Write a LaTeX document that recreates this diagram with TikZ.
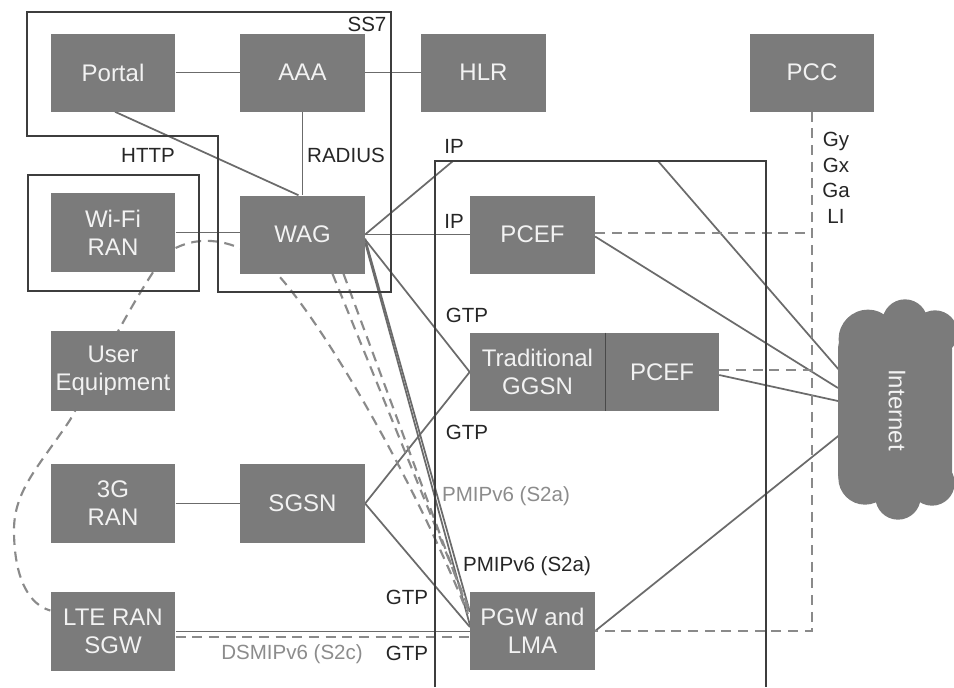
\documentclass[tikz,border=0pt]{standalone}
\usepackage{fontspec}
\setmainfont{Liberation Sans}
\usetikzlibrary{calc,backgrounds}
\pgfdeclarelayer{bottom}
\pgfsetlayers{bottom,background,main}
\definecolor{boxgray}{HTML}{7B7B7B}
\definecolor{boxtext}{HTML}{F2F2F2}
\definecolor{conncol}{HTML}{6B6B6B}
\definecolor{dashcol}{HTML}{8A8A8A}
\definecolor{outcol}{HTML}{3D3D3D}
\definecolor{lblcol}{HTML}{262626}
\definecolor{greylbl}{HTML}{8C8C8C}
\newcommand\boxfnt{\fontsize{18}{21}\selectfont}
\newcommand\lblfnt{\fontsize{15.4}{19}\selectfont}
\tikzset{
  box/.style={fill=boxgray, text=boxtext, font=\boxfnt, align=center, inner sep=0pt,
              minimum width=93.5pt, minimum height=58.5pt},
  lbl/.style={font=\lblfnt, text=lblcol, inner sep=0pt},
  glbl/.style={font=\lblfnt, text=greylbl, inner sep=0pt},
  conn/.style={draw=conncol, line width=1.3pt},
  dashline/.style={draw=dashcol, line width=1.6pt, dash pattern=on 7.5pt off 5pt},
  outline/.style={draw=outcol, line width=2pt},
}
\begin{document}
\begin{tikzpicture}[x=0.75pt,y=-0.75pt]
\begin{pgfonlayer}{bottom}
\fill[white] (0,0) rectangle (954,687);
\end{pgfonlayer}
\useasboundingbox (0,0) rectangle (954,687);

% ---- nodes ----
\node[box] (portal) at (113,72.5) {Portal};
\node[box] (aaa) at (302.5,72.5) {AAA};
\node[box] (hlr) at (483.5,72.5) {HLR};
\node[box] (pcc) at (812,72.5) {PCC};
\node[box, minimum height=59.25pt] (wifi) at (113,232.5) {Wi-Fi\\RAN};
\node[box] (wag) at (302.5,234.5) {WAG};
\node[box] (pcef1) at (532.5,234.5) {PCEF};
\node[box, minimum height=60pt] (ue) at (113,371) {User\\Equipment};
\node[box, minimum width=101.25pt] (ggsn) at (537.5,372) {Traditional\\GGSN};
\node[box, minimum width=85.5pt] (pcef2) at (662,372) {PCEF};
\draw[draw=outcol!80!boxgray, line width=0.8pt] (ggsn.north east) -- (ggsn.south east);
\node[box, minimum height=59.25pt] (ran3g) at (113,503.5) {3G\\RAN};
\node[box, minimum height=59.25pt] (sgsn) at (302.5,503.5) {SGSN};
\node[box, minimum height=59.25pt] (lte) at (113,631.5) {LTE RAN\\SGW};
\node[box] (pgw) at (532.5,631) {PGW and\\LMA};

% ---- cloud ----
\fill[boxgray, rounded corners=14pt] (838,330) rectangle (952,492);
\fill[boxgray] (868,339) circle [radius=22pt];
\fill[boxgray] (905,322) circle [radius=17pt];
\fill[boxgray] (935,333) circle [radius=17pt];
\fill[boxgray] (865,478) circle [radius=20pt];
\fill[boxgray] (898,497) circle [radius=17pt];
\fill[boxgray] (932,483) circle [radius=17pt];
\node[text=boxtext, font=\boxfnt, rotate=-90, inner sep=0pt] (internet) at (897,410) {Internet};
\coordinate (in1) at (840,371);
\coordinate (in2) at (838,388);
\coordinate (in3) at (838,401);
\coordinate (in4) at (842,433);

% ---- outlines ----
\draw[outline] (27,12) -- (391,12) -- (391,292) -- (218,292) -- (218,136) -- (27,136) -- cycle;
\draw[outline] (28,175) rectangle (199,291);
\draw[outline] (435,687) -- (435,161) -- (766,161) -- (766,687);

% ---- labels ----
\node[lbl] (ss7) at (367,24) {SS7};
\node[lbl] (http) at (148,155) {HTTP};
\node[lbl] (radius) at (346,155) {RADIUS};
\node[lbl] (ip1) at (454,146) {IP};
\node[lbl] (ip2) at (454,221) {IP};
\node[lbl] (gtp1) at (467,315) {GTP};
\node[lbl] (gtp2) at (467,432) {GTP};
\node[glbl] (pmip1) at (506,496) {PMIPv6 (S2a)};
\node[lbl] (pmip2) at (527,566) {PMIPv6 (S2a)};
\node[lbl] (gtp3) at (407,597) {GTP};
\node[lbl] (gtp4) at (407,653) {GTP};
\node[glbl] (dsmip) at (292,654) {DSMIPv6 (S2c)};
\node[lbl, align=center, font=\fontsize{15.4}{19.1}\selectfont] (gy) at (836,178) {Gy\\Gx\\Ga\\LI};

% ---- helper coordinates ----
\coordinate (ipa) at (453,161);
\coordinate (ipb) at (658,161);
\coordinate (d1) at ($(pcef1.east)+(0,-1.5)$);
\coordinate (d2) at ($(pcef2.east)+(0,-2)$);
\coordinate (d3) at ($(lte.east)+(0,5.5)$);
\coordinate (d1e) at (d1 -| pcc.south);
\coordinate (d2e) at (d2 -| pcc.south);
\coordinate (d3e) at (d3 -| pgw.west);
\coordinate (d4e) at (pcc.south |- pgw.east);

\begin{scope}[on background layer]
  \draw[conn] (portal.east) -- (aaa.west);
  \draw[conn] (aaa.east) -- (hlr.west);
  \draw[conn] ($(portal.south)+(2,0)$) -- ($(wag.north)+(-4,0)$);
  \draw[conn] (aaa.south) -- (wag.north);
  \draw[conn] (wifi.east) -- (wifi.east -| wag.west);
  \draw[conn] (wag.east) -- (pcef1.west);
  \draw[conn] (wag.east) -- (ipa) -- (ipb) -- (in1);
  \draw[conn] ($(wag.east)+(0,5)$) -- (ggsn.west);
  \draw[conn] ($(wag.east)+(0,4)$) -- ($(pgw.west)+(0,-19)$);
  \draw[conn] ($(wag.east)+(0,8)$) -- ($(pgw.west)+(0,-6)$);
  \draw[conn] (ran3g.east) -- (sgsn.west);
  \draw[conn] (sgsn.east) -- (ggsn.west);
  \draw[conn] (sgsn.east) -- ($(pgw.west)+(0,-4)$);
  \draw[conn] (lte.east) -- (lte.east -| pgw.west);
  \draw[conn] ($(pcef1.east)+(0,2)$) -- (in2);
  \draw[conn] ($(pcef2.east)+(0,3)$) -- (in3);
  \draw[conn] (pgw.east) -- (in4);
  % dashed
  \draw[dashline] (pcc.south) -- (d4e) -- (pgw.east);
  \draw[dashline] (d1) -- (d1e);
  \draw[dashline] (d2) -- (d2e);
  \draw[dashline] (d3) -- (d3e);
  \draw[dashline] ($(wifi.east)+(0,15.5)$) .. controls (200,236) and (230,238) .. (265,262)
        .. controls (310,300) and (410,470) .. ($(pgw.west)+(-2,-17)$);
  \draw[dashline] ($(wag.south)+(30,0)$) -- ($(pgw.west)+(0,-20)$);
  \draw[dashline] ($(wag.south)+(41,0)$) -- ($(pgw.west)+(0,-16)$);
  \draw[dashline] ($(wifi.south)+(40,0)$) .. controls (125,315) and (95,375) .. (70,420)
        .. controls (40,465) and (14,490) .. (14,530)
        .. controls (14,580) and (30,605) .. ($(lte.west)+(0,-21)$);
\end{scope}
\end{tikzpicture}
\end{document}
